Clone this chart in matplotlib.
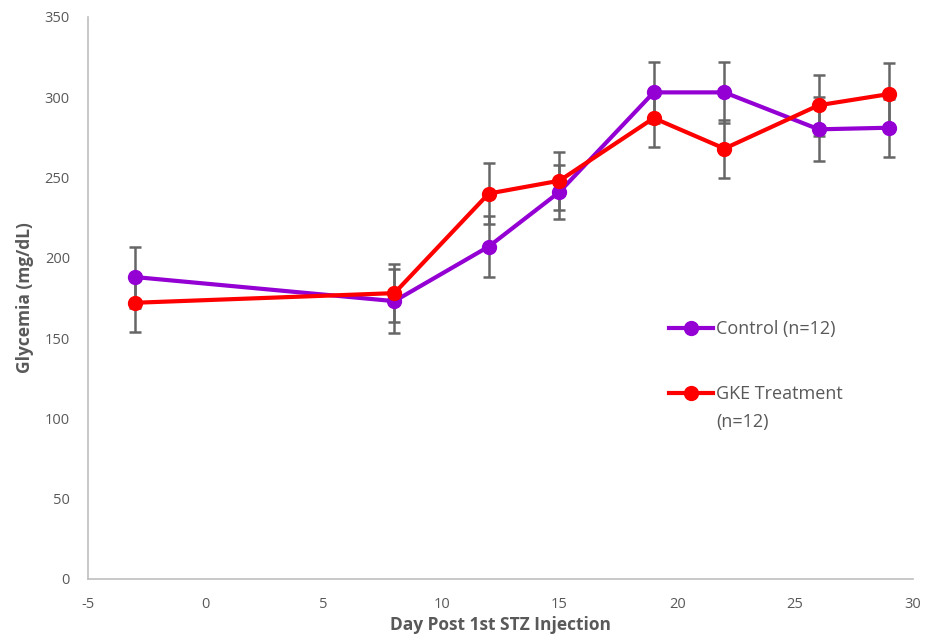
import matplotlib
matplotlib.use("Agg")
import matplotlib.pyplot as plt
from matplotlib.lines import Line2D

days = [-3, 8, 12, 15, 19, 22, 26, 29]
control = [188, 173, 207, 241, 303, 303, 280, 281]
control_err = [19, 20, 19, 17, 19, 19, 20, 18]
gke = [172, 178, 240, 248, 287, 268, 295, 302]
gke_err = [18, 18, 19, 18, 18, 18, 19, 19]

x_ticks = [-5, 0, 5, 10, 15, 20, 25, 30]
y_ticks = [0, 50, 100, 150, 200, 250, 300, 350]

plt.rcParams['font.family'] = ['Open Sans', 'DejaVu Sans']
plt.rcParams['axes.unicode_minus'] = False
grey = '#595959'
purple = '#9400D3'
red = '#FF0000'

fig = plt.figure(figsize=(9.26, 6.38), dpi=100)
ax = fig.add_axes([0.095, 0.0925, 0.891, 0.881])

ax.errorbar(days, control, yerr=control_err, color=purple, lw=3, marker='o', ms=10,
            ecolor='#666666', elinewidth=1.8, capsize=4.5, capthick=1.8, zorder=3)
ax.errorbar(days, gke, yerr=gke_err, color=red, lw=3, marker='o', ms=10,
            ecolor='#666666', elinewidth=1.8, capsize=4.5, capthick=1.8, zorder=3)

ax.set_xlim(-5, 30)
ax.set_ylim(0, 350)
ax.set_xticks(x_ticks)
ax.set_yticks(y_ticks)
ax.tick_params(length=0, labelsize=10.5, colors=grey)
ax.tick_params(axis='y', pad=13)
ax.tick_params(axis='x', pad=13)
for s in ['top', 'right']:
    ax.spines[s].set_visible(False)
for s in ['left', 'bottom']:
    ax.spines[s].set_color('#bfbfbf')
    ax.spines[s].set_linewidth(1.2)

ax.set_xlabel('Day Post 1st STZ Injection', fontsize=12.5, fontweight='bold', color=grey, labelpad=3)
ax.set_ylabel('Glycemia (mg/dL)', fontsize=12.5, fontweight='bold', color=grey, labelpad=8)

handles = [Line2D([], [], color=purple, lw=3, marker='o', ms=10),
           Line2D([], [], color=red, lw=3, marker='o', ms=10)]
leg = ax.legend(handles, ['Control (n=12)', 'GKE Treatment'], loc='upper left',
                bbox_to_anchor=(0.695, 0.473), frameon=False,
                fontsize=13, labelspacing=2.6, handlelength=2.45, handletextpad=0.2,
                borderaxespad=0)
for t in leg.get_texts():
    t.set_color(grey)
ax.text((716 - 88) / 825, (579 - 422) / 562, '(n=12)', transform=ax.transAxes,
        fontsize=13, color=grey, ha='left', va='center')

fig.savefig('out.png', dpi=100)
